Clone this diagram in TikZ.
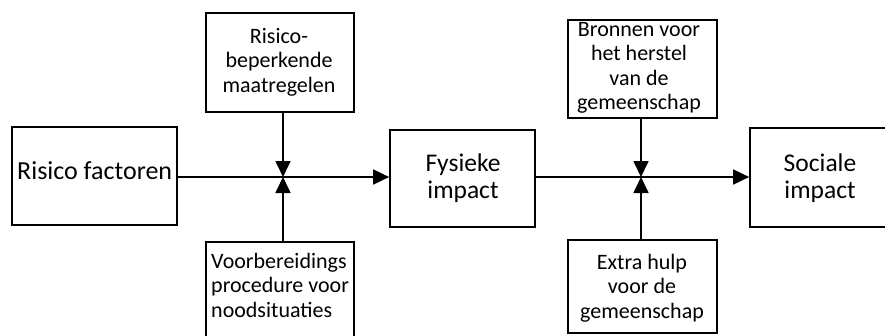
\documentclass[tikz,border=0pt]{standalone}
\usepackage{fontspec}
\setmainfont{Carlito}
\usetikzlibrary{arrows.meta}
\begin{document}
\begin{tikzpicture}[x=1pt,y=-1pt,
  box/.style={draw=black,line width=1.7pt,rectangle,inner sep=0pt},
  small/.style={font=\fontsize{22pt}{24.5pt}\selectfont,align=center,inner sep=0pt},
  big/.style={font=\fontsize{25.5pt}{27pt}\selectfont,align=center,inner sep=0pt},
  conn/.style={line width=1.7pt},
  arr/.style={conn,-{Triangle[length=16pt,width=15pt]}}]
\useasboundingbox (0,0) rectangle (885,335);
\begin{scope}
\clip (0,0) rectangle (885,335);
% boxes
\node[box,minimum width=165pt,minimum height=98pt] (rf) at (94.5,176) {};
\node[big,font=\fontsize{26pt}{28pt}\selectfont,anchor=base west] (rft) at (17,179) {Risico factoren};
\node[box,minimum width=148pt,minimum height=99pt] (tl) at (280,62.5) {};
\node[small] (tlt) at (279,62) {Risico-\\beperkende\\maatregelen};
\node[box,minimum width=148pt,minimum height=108pt] (bl) at (280,296) {};
\node[small,align=left,anchor=north west] (blt) at (211,253) {Voorbereidings\\procedure voor\\noodsituaties};
\node[box,minimum width=145pt,minimum height=97pt] (fys) at (462.5,178.5) {};
\node[big] (fyst) at (463,178) {Fysieke\\impact};
\node[box,minimum width=149pt,minimum height=98pt] (tr) at (642.5,69) {};
\node[small] (trt) at (639,68) {Bronnen voor\\het herstel\\van de\\gemeenschap};
\node[box,minimum width=149pt,minimum height=93pt] (br) at (642.5,286.5) {};
\node[small] (brt) at (642,288) {Extra hulp\\voor de\\gemeenschap};
\node[box,minimum width=145pt,minimum height=99pt] (soc) at (822.5,177.5) {};
\node[big] (soct) at (820,178) {Sociale\\impact};
% junctions
\coordinate (j1) at (283,177);
\coordinate (j2) at (641,177);
% connectors
\draw[arr] (rf.east |- j1) -- (fys.west |- j1);
\draw[arr] (j1 |- tl.south) -- (j1);
\draw[arr] (j1 |- bl.north) -- (j1);
\draw[arr] (fys.east |- j2) -- (soc.west |- j2);
\draw[arr] (j2 |- tr.south) -- (j2);
\draw[arr] (j2 |- br.north) -- (j2);
\end{scope}
\end{tikzpicture}
\end{document}
